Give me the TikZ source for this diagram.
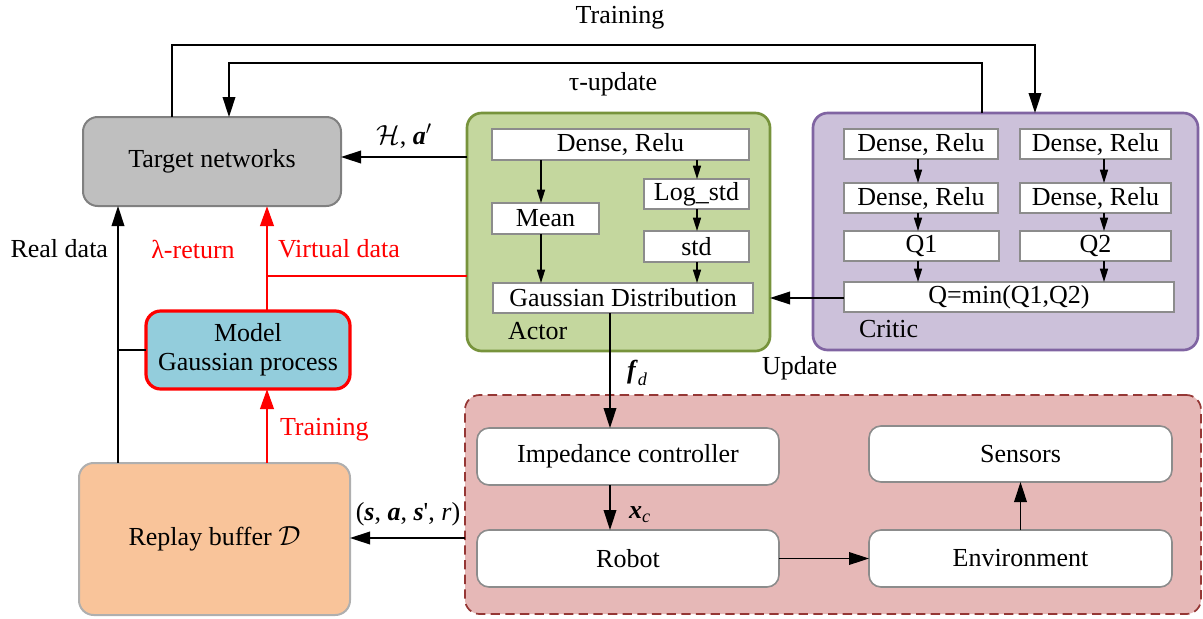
\documentclass[tikz,border=0pt]{standalone}
\usepackage{amsmath}
\usepackage{fontspec}
\setmainfont{Liberation Serif}
\usetikzlibrary{arrows.meta}
\definecolor{tgfill}{HTML}{BFBFBF}
\definecolor{tgdraw}{HTML}{808080}
\definecolor{actfill}{HTML}{C4D79E}
\definecolor{actdraw}{HTML}{77933C}
\definecolor{crfill}{HTML}{CCC1DA}
\definecolor{crdraw}{HTML}{8064A2}
\definecolor{mdfill}{HTML}{93CDDC}
\definecolor{rpfill}{HTML}{F9C49A}
\definecolor{envfill}{HTML}{E6B8B7}
\definecolor{envdraw}{HTML}{953735}
\definecolor{bxdraw}{HTML}{8C8C8C}
\begin{document}
\begin{tikzpicture}[x=0.75pt,y=-0.75pt,
  font=\fontsize{19.5}{22}\selectfont,
  every node/.style={inner sep=0pt, outer sep=0pt},
  span/.style n args={4}{minimum width={(#3-#1)*0.75pt}, minimum height={(#4-#2)*0.75pt}, at={({(#1+#3)/2},{(#2+#4)/2})}},
  grp/.style={rounded corners=11pt, line width=2pt},
  ibox/.style={draw=bxdraw, fill=white, line width=1.2pt},
  rbox/.style={ibox, rounded corners=9pt},
  arr/.style={-{Triangle[length=15pt,width=9.5pt]}, line width=1.1pt},
  sarr/.style={-{Triangle[length=10pt,width=6pt]}, line width=1.1pt},
  rarr/.style={-{Triangle[length=15pt,width=10pt]}, red, line width=2.2pt}]
\useasboundingbox (0,0) rectangle (1203,618);

% groups
\node[grp, fill=actfill, draw=actdraw, span={467}{113}{770}{351}] (actor) {};
\node[grp, fill=crfill, draw=crdraw, span={813}{113}{1198}{350}] (critic) {};
\node[grp, fill=envfill, draw=envdraw, dash pattern=on 7pt off 4pt, line width=1.3pt, span={465}{395}{1201}{614}] (envgrp) {};

% main boxes
\node[rounded corners=11pt, fill=tgfill, draw=tgdraw, line width=1.5pt, span={83}{117}{341}{206}] (tn) {Target networks};
\node[rounded corners=11pt, fill=mdfill, draw=red, line width=2.4pt, align=center, span={146}{311}{350}{389}] (model) {Model\\Gaussian process};
\node[rounded corners=11pt, fill=rpfill, draw=bxdraw!70, line width=1.5pt, span={79}{463}{350}{615}] (replay) {Replay buffer $\mathcal{D}$};

% actor inner
\node[ibox, span={492}{129}{749}{160}] (dense) {Dense, Relu};
\node[ibox, span={492}{203}{599}{234}] (mean) {Mean};
\node[ibox, span={644}{179}{749}{209}] (logstd) {Log\_std};
\node[ibox, span={644}{231}{749}{262}] (std) {std};
\node[ibox, span={493}{283}{753}{313}] (gauss) {Gaussian Distribution};
\node[anchor=west] (actorlbl) at (508,331) {Actor};

% critic inner
\node[ibox, span={844}{129}{998}{159}] (c1a) {Dense, Relu};
\node[ibox, span={1020}{129}{1171}{159}] (c2a) {Dense, Relu};
\node[ibox, span={844}{183}{998}{213}] (c1b) {Dense, Relu};
\node[ibox, span={1020}{183}{1171}{213}] (c2b) {Dense, Relu};
\node[ibox, span={844}{231}{999}{261}] (q1) {Q1};
\node[ibox, span={1020}{231}{1171}{261}] (q2) {Q2};
\node[ibox, span={844}{282}{1174}{312}] (qmin) {Q=min(Q1,Q2)};
\node[anchor=west] (criticlbl) at (859,329) {Critic};

% environment inner
\node[rbox, span={477}{428}{779}{485}] (imp) {Impedance controller};
\node[rbox, span={477}{530}{779}{587}] (robot) {Robot};
\node[rbox, span={869}{426}{1172}{482}] (sens) {Sensors};
\node[rbox, span={869}{530}{1172}{587}] (env) {Environment};

% helper coordinates
\coordinate (xl) at (541,0);
\coordinate (xr) at (697,0);
\coordinate (xa) at (918,0);
\coordinate (xb) at (1104,0);
\coordinate (xf) at (610,0);
\coordinate (xd) at (118,0);
\coordinate (xm) at (267,0);
\coordinate (ya) at (0,157);
\coordinate (yv) at (0,276);
\coordinate (yq) at (0,298);
\coordinate (ys) at (0,538);
\coordinate (tA) at (172,45);
\coordinate (tB) at (1035,45);
\coordinate (uA) at (982,63);
\coordinate (uB) at (229,63);

% actor arrows
\draw[sarr] (dense.south -| xl) -- (mean.north -| xl);
\draw[sarr] (dense.south -| xr) -- (logstd.north -| xr);
\draw[sarr] (logstd.south -| xr) -- (std.north -| xr);
\draw[sarr] (mean.south -| xl) -- (gauss.north -| xl);
\draw[sarr] (std.south -| xr) -- (gauss.north -| xr);

% critic arrows
\draw[sarr] (c1a.south -| xa) -- (c1b.north -| xa);
\draw[sarr] (c1b.south -| xa) -- (q1.north -| xa);
\draw[sarr] (q1.south -| xa) -- (qmin.north -| xa);
\draw[sarr] (c2a.south -| xb) -- (c2b.north -| xb);
\draw[sarr] (c2b.south -| xb) -- (q2.north -| xb);
\draw[sarr] (q2.south -| xb) -- (qmin.north -| xb);

% critic -> actor
\draw[arr] (qmin.west |- yq) -- (actor.east |- yq);
\node[anchor=west] (upd) at (762,368) {Update};

% actor -> target
\draw[arr] (actor.west |- ya) -- (tn.east |- ya);
\node (hlbl) at (404,136) {$\mathcal{H}$, \textbf{\textit{a}}$'$};

% top loops
\draw[arr] (tA |- tn.north) -- (tA) -- (tB) -- (tB |- critic.north);
\node (trainlbl) at (620,18) {Training};
\draw[arr] (uA |- critic.north) -- (uA) -- (uB) -- (uB |- tn.north);
\node (taulbl) at (613,84) {τ-update};

% red paths
\draw[red, line width=2.2pt] (actor.west |- yv) -- (xm |- yv);
\draw[rarr] (xm |- model.north) -- (xm |- tn.south);
\draw[rarr] (xm |- replay.north) -- (xm |- model.south);
\node[text=red] (lamlbl) at (193,249) {λ-return};
\node[anchor=west, text=red] (virtlbl) at (278,249) {Virtual data};
\node[anchor=west, text=red] (trlbl2) at (280,430) {Training};

% real data
\draw[arr] (xd |- replay.north) -- (xd |- tn.south);
\draw[line width=1.1pt] (xd |- model.west) -- (model.west);
\node[anchor=east] (reallbl) at (108,249) {Real data};

% actor -> impedance
\draw[arr] (gauss.south -| xf) -- (imp.north -| xf);
\node[anchor=west] (fdlbl) at (627,373) {$\textbf{\textit{f}}_{\textit{d}}$};
\draw[arr] (imp.south -| xf) -- (robot.north -| xf);
\node[anchor=west] (xclbl) at (629,515) {$\textbf{\textit{x}}_{\textit{c}}$};
\draw[arr] (robot.east) -- (env.west);
\draw[arr] (env.north) -- (sens.south);

% environment -> replay
\draw[arr] (envgrp.west |- ys) -- (replay.east |- ys);
\node (sarlbl) at (408,514) {(\textbf{\textit{s}}, \textbf{\textit{a}}, \textbf{\textit{s}}\textquotesingle, \textit{r})};
\end{tikzpicture}
\end{document}
